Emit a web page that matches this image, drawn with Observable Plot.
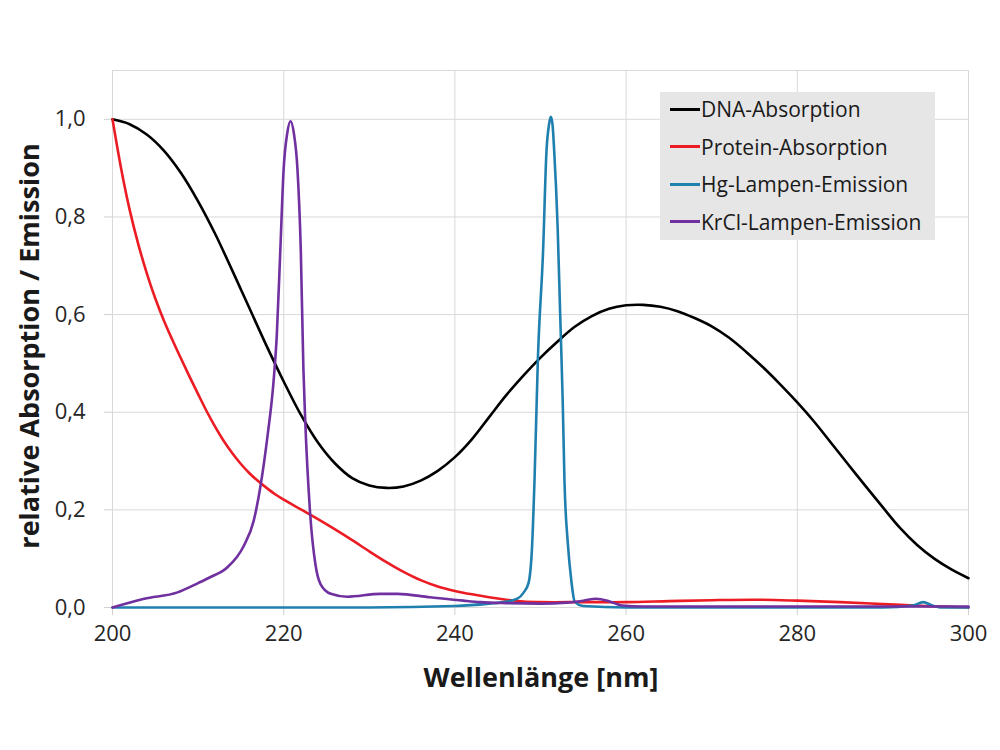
<!DOCTYPE html>
<html><head><meta charset="utf-8">
<script src="https://cdn.jsdelivr.net/npm/d3@7"></script>
<script src="https://cdn.jsdelivr.net/npm/@observablehq/plot@0.6"></script>
<style>
body{margin:0;background:#fff;font-family:"Open Sans",sans-serif;}
#wrap{position:relative;width:1000px;height:750px;overflow:hidden;}
#legend{position:absolute;left:660px;top:92px;width:275px;height:148px;background:#e6e6e6;}
.item{position:absolute;left:10px;height:38px;display:flex;align-items:center;font-size:21px;color:#1a1a1a;white-space:nowrap;}
.sw{display:inline-block;width:30px;height:3px;margin-right:1px;}
.title{position:absolute;font-weight:bold;color:#1a1a1a;white-space:nowrap;transform:translate(-50%,-50%);}
</style></head><body><div id="wrap"></div>
<script>
// ---- data ----
const xTicks = [200, 220, 240, 260, 280, 300];
const yTicks = [0, 0.2, 0.4, 0.6, 0.8, 1.0];
const seriesNames = ["DNA-Absorption", "Protein-Absorption", "Hg-Lampen-Emission", "KrCl-Lampen-Emission"];
const seriesColors = ["#000000", "#ec1c24", "#1f7fae", "#7030a0"];

const dnaNm = [200,202,204,206,208,210,212,214,216,218,220,222,224,226,228,230,232,234,236,238,240,242,244,246,248,250,252,254,256,258,260,262,264,266,268,270,272,274,276,278,280,282,284,286,288,290,292,294,296,298,300];
const dnaVal = [1.0,0.99,0.969,0.936,0.89,0.832,0.765,0.69,0.613,0.536,0.463,0.395,0.338,0.295,0.265,0.25,0.245,0.248,0.26,0.28,0.308,0.345,0.39,0.435,0.475,0.512,0.545,0.575,0.597,0.612,0.619,0.62,0.616,0.607,0.593,0.576,0.553,0.524,0.492,0.457,0.42,0.38,0.336,0.292,0.248,0.205,0.163,0.128,0.1,0.078,0.06];

const protNm = [200,201,202,203,204,205,206,207,208,209,210,211,212,213,214,215,216,217,218,219,220,222,224,226,228,230,232,234,236,238,240,242,244,246,248,250,255,260,265,270,275,280,285,290,295,300];
const protVal = [1.0,0.9,0.815,0.745,0.685,0.633,0.588,0.548,0.51,0.473,0.437,0.402,0.37,0.341,0.316,0.294,0.275,0.259,0.245,0.232,0.221,0.201,0.181,0.16,0.138,0.115,0.093,0.073,0.056,0.043,0.034,0.027,0.021,0.016,0.012,0.011,0.011,0.011,0.013,0.015,0.016,0.014,0.011,0.007,0.003,0.0];

const hgNm = [200,230,240,244,246,247.3,248,248.6,249,249.3,249.7,250.3,250.7,251.0,251.2,251.4,251.6,252,252.3,252.6,252.8,253.2,253.6,254,255,260,290,293.5,294.7,295.8,297,300];
const hgVal = [0,0,0.003,0.008,0.012,0.018,0.03,0.05,0.12,0.26,0.512,0.73,0.935,0.99,1.005,0.99,0.935,0.78,0.6,0.42,0.26,0.13,0.055,0.012,0.003,0,0,0.004,0.011,0.004,0,0];

const krNm = [200,203.7,207.6,210,211.4,213.4,215.3,216.5,217.3,218.1,218.8,219.2,219.6,220,220.4,220.8,221.2,221.6,222,222.3,222.5,223.1,223.7,224.3,225.5,227.4,231.3,233.3,237.1,241,243,246,250,253,255,256.5,258,259.5,262,270,280,290,300];
const krVal = [0,0.018,0.031,0.05,0.062,0.082,0.125,0.178,0.25,0.35,0.46,0.56,0.73,0.9,0.97,0.996,0.97,0.9,0.73,0.49,0.39,0.19,0.089,0.048,0.028,0.022,0.028,0.028,0.021,0.014,0.011,0.009,0.008,0.01,0.014,0.018,0.013,0.004,0.002,0.002,0.002,0.002,0.002];

const xTitle = "Wellenlänge [nm]";
const yTitle = "relative Absorption / Emission";

// ---- build ----
const toRows = (nm, val, s) => nm.map((x, i) => ({x, y: val[i], s}));
const seriesData = [
  toRows(dnaNm, dnaVal, seriesNames[0]),
  toRows(protNm, protVal, seriesNames[1]),
  toRows(hgNm, hgVal, seriesNames[2]),
  toRows(krNm, krVal, seriesNames[3])
];
const curves = ["catmull-rom", "catmull-rom", "monotone-x", "monotone-x"];

const chart = Plot.plot({
  width: 1000, height: 750,
  marginLeft: 112, marginRight: 32, marginTop: 70, marginBottom: 143,
  style: {fontFamily: "'Open Sans', sans-serif", fontSize: "22px", color: "#262626", background: "#fff"},
  x: {domain: [200, 300], label: null},
  y: {domain: [0, 1.1], label: null},
  marks: [
    Plot.gridY(yTicks, {stroke: "#d9d9d9", strokeOpacity: 1}),
    Plot.gridX(xTicks, {stroke: "#d9d9d9", strokeOpacity: 1}),
    Plot.frame({stroke: "#d9d9d9"}),
    Plot.axisX(xTicks, {tickSize: 8, tickPadding: 10, stroke: "#d0d0d0", fill: "#262626", fontSize: 22, label: null, tickFormat: d => String(d)}),
    Plot.axisY(yTicks, {tickSize: 8, tickPadding: 19, stroke: "#d0d0d0", fill: "#262626", fontSize: 22, label: null, tickFormat: d => d.toFixed(1).replace(".", ",")}),
    ...seriesData.map((rows, i) => Plot.line(rows, {x: "x", y: "y", stroke: seriesColors[i], strokeWidth: 2.6, curve: curves[i]}))
  ]
});

const wrap = document.getElementById("wrap");
wrap.appendChild(chart);

// legend
const legend = document.createElement("div");
legend.id = "legend";
seriesNames.forEach((n, i) => {
  const it = document.createElement("div");
  it.className = "item";
  it.style.top = (i * 37.5 - 2) + "px";
  const sw = document.createElement("span");
  sw.className = "sw";
  sw.style.background = seriesColors[i];
  it.appendChild(sw);
  it.appendChild(document.createTextNode(n));
  legend.appendChild(it);
});
wrap.appendChild(legend);

// axis titles
const xt = document.createElement("div");
xt.className = "title";
xt.textContent = xTitle;
xt.style.left = "541px"; xt.style.top = "676px"; xt.style.fontSize = "27px";
wrap.appendChild(xt);
const yt = document.createElement("div");
yt.className = "title";
yt.textContent = yTitle;
yt.style.left = "28px"; yt.style.top = "346px"; yt.style.fontSize = "27px";
yt.style.transform = "translate(-50%,-50%) rotate(-90deg)";
wrap.appendChild(yt);
</script></body></html>
